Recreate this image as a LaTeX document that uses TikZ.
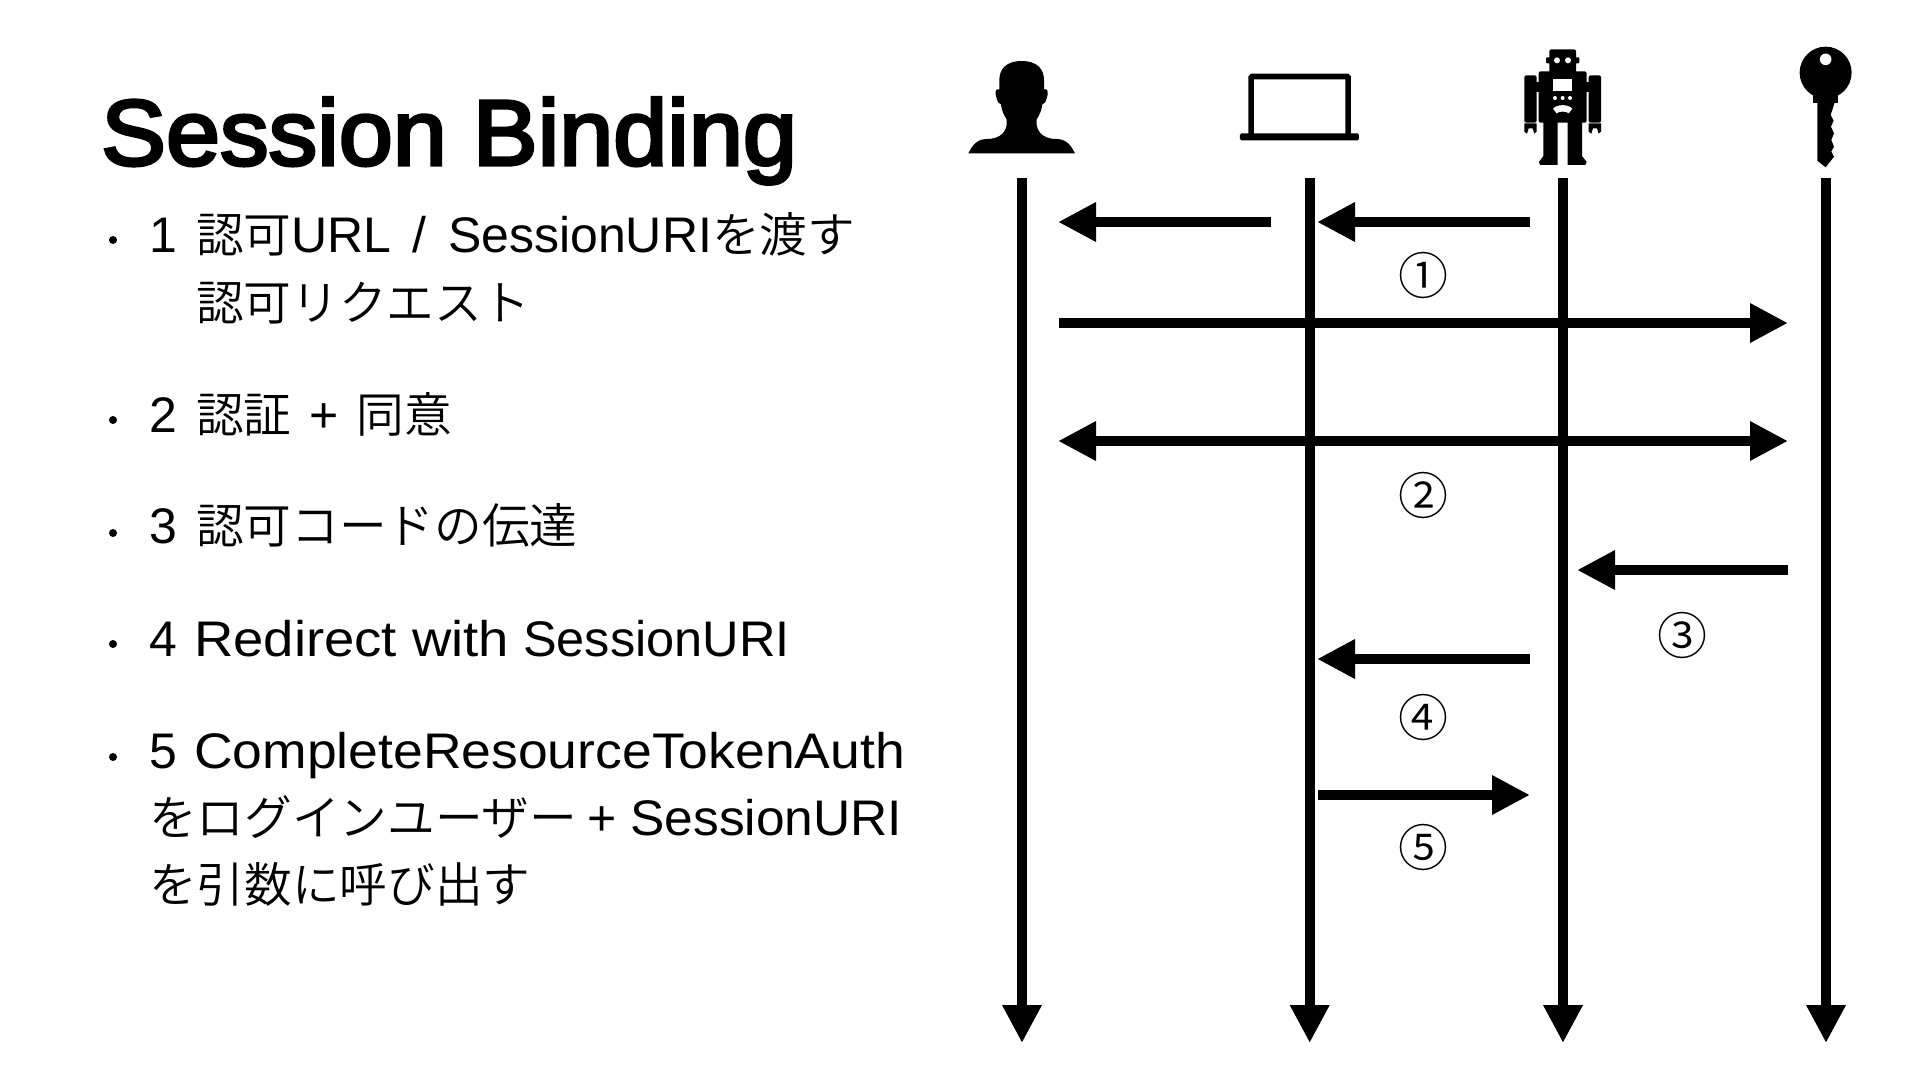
\documentclass[tikz,border=0pt]{standalone}
\usepackage{fontspec}
\setmainfont{Liberation Sans}
\newfontfamily\cjk{Noto Sans CJK JP DemiLight}
\newfontfamily\titlefont{Liberation Sans}[FakeBold=3.5,FakeStretch=1.045]
\usetikzlibrary{arrows.meta}
\newcommand{\J}[1]{{\cjk #1}}
\newcommand{\W}[2]{{\addfontfeature{FakeStretch=#1}#2}}
\tikzset{
  x=1pt,y=-1pt,
  bodytext/.style={anchor=base west,inner sep=0pt,outer sep=0pt,font=\fontsize{47.7}{60}\selectfont},
  latinbody/.style={bodytext,font=\fontsize{50}{60}\selectfont},
  numtext/.style={anchor=center,inner sep=0pt,font=\cjk\fontsize{50}{60}\selectfont},
  titletext/.style={anchor=base west,inner sep=0pt,font=\titlefont\fontsize{93}{100}\selectfont},
  bulletdot/.style={circle,fill=black,inner sep=0pt,minimum size=8pt},
  lifeline/.style={line width=10pt,-{Triangle[length=38pt,width=37pt]}},
  msg/.style={line width=10pt,-{Triangle[length=38pt,width=37pt]}},
  msgboth/.style={line width=10pt,{Triangle[length=38pt,width=37pt]}-{Triangle[length=38pt,width=37pt]}},
  iconzoom/.style={x=0.3333pt,y=-0.3333pt}
}
\newcommand{\LL}[1]{{\fontsize{50}{60}\selectfont #1}}
\begin{document}
\begin{tikzpicture}
\useasboundingbox (0,0) rectangle (1920,1080);
% title
\node[titletext] (title) at (101,165) {Session\hspace{-1pt} Binding};
% bullets
\node[bulletdot] (b1) at (113,240) {};
\node[bulletdot] (b2) at (113,420) {};
\node[bulletdot] (b3) at (113,533) {};
\node[bulletdot] (b4) at (113,644) {};
\node[bulletdot] (b5) at (113,757) {};
% text
\node[latinbody] (n1) at (149,252) {1};
\node[bodytext] (t1) at (196,252) {\J{認可}\LL{URL\hspace{7pt} / \hspace{7pt}\hspace{1pt}SessionURI}\J{を渡す}};
\node[bodytext] (t1b) at (196,320) {\J{認可リクエスト}};
\node[latinbody] (n2) at (149,432) {2};
\node[bodytext] (t2) at (196,432) {\J{認証}\LL{\hspace{4pt} + \hspace{4pt}}\J{同意}};
\node[latinbody] (n3) at (149,543) {3};
\node[bodytext] (t3) at (196,543) {\J{認可コードの伝達}};
\node[latinbody] (t4) at (149,656) {4\hspace{3.5pt} \W{1.09}{Redirect with} \W{1.01}{SessionURI}};
\node[latinbody] (t5) at (149,768) {5\hspace{3.5pt} \W{1.07}{CompleteResourceTokenAuth}};
\node[bodytext] (t5b) at (149,835) {\J{をログインユーザー}\LL{\hspace{-4pt} + \W{1.03}{SessionURI}}};
\node[bodytext] (t5c) at (149,902) {\J{を引数に呼び出す}};
% lifeline coordinates
\coordinate (ua) at (1022,178); \coordinate (ub) at (1022,1043);
\coordinate (la) at (1309.7,178); \coordinate (lb) at (1309.7,1043);
\coordinate (ra) at (1563,178); \coordinate (rb) at (1563,1043);
\coordinate (ka) at (1826,178); \coordinate (kb) at (1826,1043);
\draw[lifeline] (ua) -- (ub);
\draw[lifeline] (la) -- (lb);
\draw[lifeline] (ra) -- (rb);
\draw[lifeline] (ka) -- (kb);
% messages
\coordinate (m1s) at (1271,222); \coordinate (m1e) at (1058,222);
\coordinate (m2s) at (1530,222); \coordinate (m2e) at (1317,222);
\coordinate (m3s) at (1059,323); \coordinate (m3e) at (1788,323);
\coordinate (m4s) at (1058,441); \coordinate (m4e) at (1788,441);
\coordinate (m5s) at (1788,570); \coordinate (m5e) at (1577,570);
\coordinate (m6s) at (1530,659); \coordinate (m6e) at (1317,659);
\coordinate (m7s) at (1318,795); \coordinate (m7e) at (1530,795);
\draw[msg] (m1s) -- (m1e);
\draw[msg] (m2s) -- (m2e);
\draw[msg] (m3s) -- (m3e);
\draw[msgboth] (m4s) -- (m4e);
\draw[msg] (m5s) -- (m5e);
\draw[msg] (m6s) -- (m6e);
\draw[msg] (m7s) -- (m7e);
% step numbers
\node[numtext] (c1) at (1423,275) {①};
\node[numtext] (c2) at (1423,495) {②};
\node[numtext] (c3) at (1682,635) {③};
\node[numtext] (c4) at (1423,717) {④};
\node[numtext] (c5) at (1423,847) {⑤};
% person icon
\begin{scope}[shift={(950,30)},iconzoom]
\fill (215,93) .. controls (262,93) and (282,118) .. (282,150) -- (282,178)
  .. controls (295,174) and (296,190) .. (290,205) .. controls (287,218) and (282,222) .. (277,223)
  .. controls (274,245) and (268,255) .. (260,268) -- (260,285)
  .. controls (265,315) and (290,327) .. (320,327) .. controls (350,328) and (362,345) .. (375,370)
  -- (55,370)
  .. controls (68,345) and (80,328) .. (110,327) .. controls (140,327) and (165,315) .. (170,285)
  -- (170,268) .. controls (162,255) and (156,245) .. (153,223)
  .. controls (148,222) and (143,218) .. (140,205) .. controls (134,190) and (135,174) .. (148,178)
  -- (148,150) .. controls (148,118) and (168,93) .. (215,93) -- cycle;
% laptop icon
\draw[line width=5.67pt,rounded corners=1pt] (903.5,315) -- (903.5,139.5) -- (1194.5,139.5) -- (1194.5,315);
\fill[rounded corners=1.5pt] (870,310) rectangle (1227,331);
\end{scope}
% robot and key icons
\begin{scope}[shift={(1480,30)},iconzoom]
\fill[rounded corners=2pt] (208,58) rectangle (288,130);
\fill[rounded corners=1pt] (198,82) rectangle (298,100);
\fill[rounded corners=2pt] (176,124) rectangle (320,278);
\fill[rounded corners=2pt] (133,136) rectangle (170,278);
\fill[rounded corners=2pt] (326,136) rectangle (363,278);
\fill (168,155) rectangle (178,185);
\fill (318,155) rectangle (328,185);
% hands
\fill (133,280) -- (170,280) -- (170,305) -- (163,311) -- (158,295) -- (146,295) -- (141,311) -- (133,305) -- cycle;
\fill (326,280) -- (363,280) -- (363,305) -- (356,311) -- (351,295) -- (339,295) -- (334,311) -- (326,305) -- cycle;
% legs
\fill (190,270) -- (233,270) -- (233,405) -- (180,405) -- (177,396) -- (190,378) -- cycle;
\fill (263,270) -- (306,270) -- (306,378) -- (320,396) -- (316,405) -- (263,405) -- cycle;
% robot details
\fill[white] (231,91) circle[radius=3pt];
\fill[white] (264,91) circle[radius=3pt];
\fill[white] (219,146) rectangle (277,184);
\fill[white] (225,204) circle[radius=2pt];
\fill[white] (248,204) circle[radius=2pt];
\fill[white] (270,204) circle[radius=2pt];
\fill[white] (219,236) .. controls (232,222) and (264,222) .. (277,236) -- (266,250) .. controls (258,243) and (238,243) .. (230,250) -- cycle;
% key
\fill (1037,128) circle[radius=26pt];
\fill (1000,190) rectangle (1075,220);
\fill (1012,215) -- (1065,215) -- (1052,255) -- (1061,272) -- (1053,290) -- (1062,310) -- (1054,330) -- (1062,350) -- (1054,365) -- (1062,380) -- (1037,412) -- (1012,392) -- cycle;
\fill[white] (1037,88) circle[radius=5.8pt];
\end{scope}
\end{tikzpicture}
\end{document}
